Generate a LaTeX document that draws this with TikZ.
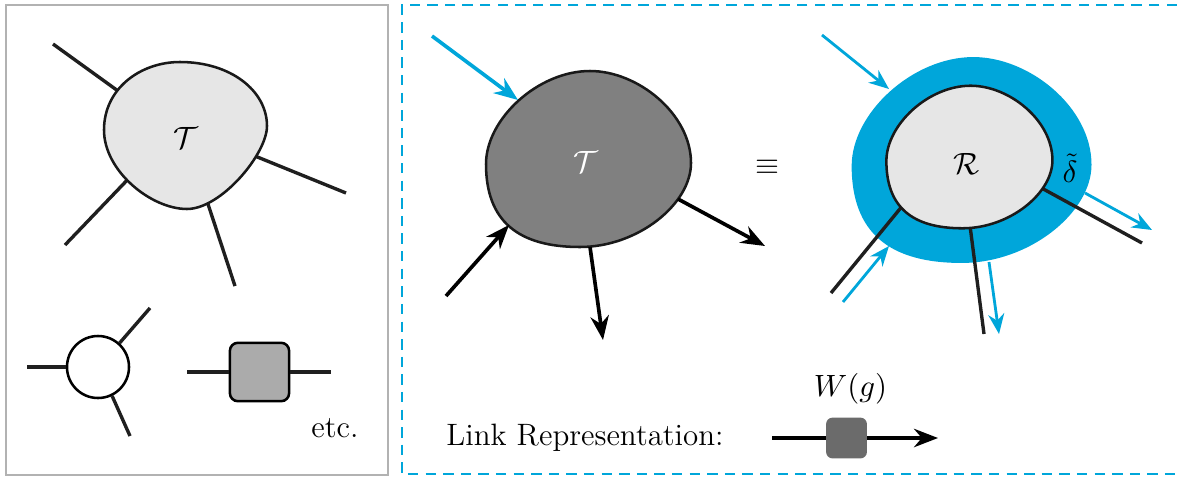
\documentclass[tikz,border=0pt]{standalone}
\usepackage{amsmath,amssymb}
\usetikzlibrary{positioning,arrows.meta}
\definecolor{cblue}{HTML}{00A6DA}
\definecolor{lgray}{HTML}{E6E6E6}
\definecolor{dgray}{HTML}{808080}
\tikzset{
  leg/.style={line width=1.2pt, draw=black!88},
  arr/.style={-{Stealth[length=3mm,width=2.3mm]}, line width=1.3pt},
  carr/.style={-{Stealth[length=2.5mm,width=2mm]}, line width=1pt, cblue},
  blobline/.style={line width=0.9pt, draw=black!90},
  pics/blob/.style={code={
    \path[pic actions] (-102,5) .. controls (-102,-40) and (-50,-88) .. (2,-88)
      .. controls (50,-88) and (103,-45) .. (103,4)
      .. controls (103,45) and (50,88) .. (-8,88)
      .. controls (-70,88) and (-102,62) .. cycle;}},
}

\begin{document}
\begin{tikzpicture}[x=0.0125cm, y=-0.0125cm, font=\fontsize{11}{13}\selectfont]
  \useasboundingbox (0,0) rectangle (1177,477);
  % frames
  \draw[line width=0.8pt, black!30] (6,5) rectangle (388,475);
  \draw[cblue, line width=0.8pt, dash pattern=on 1.3mm off 0.9mm] (1177,5) -| (402,474) -- (1177,474);

  % general tensor
  \coordinate (l1) at (125,96);  \coordinate (l1e) at (53,44);
  \coordinate (l2) at (250,154); \coordinate (l2e) at (346,193);
  \coordinate (l3) at (133,174); \coordinate (l3e) at (65,245);
  \coordinate (l4) at (206,198); \coordinate (l4e) at (235,286);
  \draw[leg] (l1) -- (l1e); \draw[leg] (l2) -- (l2e);
  \draw[leg] (l3) -- (l3e); \draw[leg] (l4) -- (l4e);
  \draw[blobline, fill=lgray, shift={(186,136)}] (-82,-6) .. controls (-82,-48) and (-45,-74) .. (-6,-74)
    .. controls (45,-74) and (81,-45) .. (81,-10)
    .. controls (81,18) and (35,73) .. (1,73)
    .. controls (-35,73) and (-82,35) .. cycle;
  \node (tl) at (186,138) {$\mathcal{T}$};

  % examples
  \node[circle, draw, line width=0.9pt, minimum size=0.775cm, inner sep=0pt] (cc) at (98,367) {};
  \coordinate (c1) at (27,367); \coordinate (c2) at (150,308); \coordinate (c3) at (130,436);
  \draw[leg] (cc.west) -- (c1); \draw[leg] (cc.48) -- (c2); \draw[leg] (cc.-64) -- (c3);
  \node[draw, line width=0.9pt, fill=black!33, rounded corners=1mm, minimum width=0.74cm,
        minimum height=0.73cm, inner sep=0pt] (sq) at (259.5,372) {};
  \coordinate (s1) at (187,372); \coordinate (s2) at (331,372);
  \draw[leg] (sq.west) -- (s1); \draw[leg] (sq.east) -- (s2);
  \node (etc) at (335,428) {etc.};

  % tensor with arrows
  \pic[blobline, fill=dgray] at (588,159) {blob};
  \node[white] (tm) at (586,162) {$\mathcal{T}$};
  \coordinate (ma) at (432,36);  \coordinate (mb) at (518,100);
  \coordinate (mc) at (446,296); \coordinate (md) at (509,225);
  \coordinate (me) at (590,247); \coordinate (mf) at (603,340);
  \coordinate (mg) at (678,199); \coordinate (mh) at (765,246);
  \draw[arr, cblue] (ma) -- (mb);
  \draw[arr] (mc) -- (md);
  \draw[arr] (me) -- (mf);
  \draw[arr] (mg) -- (mh);

  \node (eq) at (767,167) {$\equiv$};

  % region with boundary
  \pic[fill=cblue, scale=1.17] at (971,160) {blob};
  \coordinate (r1) at (908,199);  \coordinate (r1e) at (831,293);
  \coordinate (r2) at (969,218);  \coordinate (r2e) at (984,334);
  \coordinate (r3) at (1036,185); \coordinate (r3e) at (1142,243);
  \draw[leg] (r1) -- (r1e); \draw[leg] (r2) -- (r2e); \draw[leg] (r3) -- (r3e);
  \pic[blobline, fill=lgray, scale=0.81] at (969,157) {blob};
  \node (rl) at (967,164) {$\mathcal{R}$};
  \node (dl) at (1070,168) {$\tilde{\delta}$};
  \coordinate (ra) at (822,35);   \coordinate (rb) at (889,89);
  \coordinate (rc) at (843,302);  \coordinate (rd) at (889,246);
  \coordinate (re) at (989,262);  \coordinate (rf) at (999,334);
  \coordinate (rg) at (1085,193); \coordinate (rh) at (1152,230);
  \draw[carr] (ra) -- (rb);
  \draw[carr] (rc) -- (rd);
  \draw[carr] (re) -- (rf);
  \draw[carr] (rg) -- (rh);

  % link
  \node (lr) at (585,438) {Link Representation:};
  \coordinate (ka) at (772,438); \coordinate (kb) at (938,438);
  \draw[arr] (ka) -- (kb);
  \node[fill=black!58, rounded corners=0.8mm, minimum size=0.51cm, inner sep=0pt] (wg) at (846.5,438) {};
  \node[above=0.04cm of wg, xshift=0.05cm] (wl) {$W(g)$};
\end{tikzpicture}
\end{document}
